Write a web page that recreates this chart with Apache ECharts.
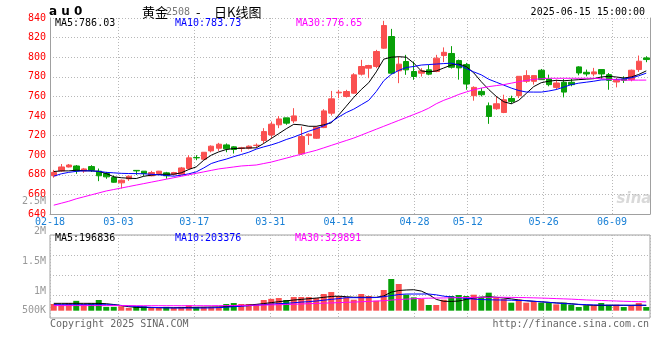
<!DOCTYPE html>
<html><head><meta charset="utf-8">
<script src="https://cdn.jsdelivr.net/npm/echarts@6/dist/echarts.min.js"></script>
<style>html,body{margin:0;padding:0;background:#fff}#c{width:660px;height:360px}</style>
</head><body><div id="c"></div>
<script>
// ---------- data ----------
const dates = ['02-18','02-19','02-20','02-21','02-24','02-25','02-26','02-27','02-28',
'03-03','03-04','03-05','03-06','03-07','03-10','03-11','03-12','03-13','03-14',
'03-17','03-18','03-19','03-20','03-21','03-24','03-25','03-26','03-27','03-28','03-31',
'04-01','04-02','04-03','04-07','04-08','04-09','04-10','04-11',
'04-14','04-15','04-16','04-17','04-18','04-21','04-22','04-23','04-24','04-25',
'04-28','04-29','04-30',
'05-06','05-07','05-08','05-09','05-12','05-13','05-14','05-15','05-16',
'05-19','05-20','05-21','05-22','05-23','05-26','05-27','05-28','05-29','05-30',
'06-03','06-04','06-05','06-06','06-09','06-10','06-11','06-12','06-13','06-16'];
const gridDates = dates.slice(0, 79);
const labelDates = ['02-18','03-03','03-17','03-31','04-14','04-28','05-12','05-26','06-09'];

const opens = [679,684,688,689,684,688.4,683.7,681.3,677.2,671.8,
675.9,684.5,683.7,679,681.3,682,680.6,680.6,686.4,697.6,
695.9,704.4,707.1,710.5,708.5,707,707.1,709.9,715,720.7,
731,738.1,735,701.4,720,717.3,728.2,742.9,763.6,759.9,
763.3,782.7,788.8,790.5,809.2,821.1,786.1,795.6,785.4,783.7,
787.1,785.4,801.7,803.8,796.6,792.5,760.7,765.1,750.4,747.4,
743.6,757.9,760.7,775.4,775.4,786.7,777.8,769.2,774.4,774.4,
790.1,784.6,782.9,787.4,782.2,774.7,777.8,777.1,787.4,799.3];
const highs = [685,691,691,690,687,689.8,686.4,683,679.3,675.2,
679.3,684.7,683.7,684,684,683,683,688,700,700,
703,710,712.6,712,709.2,708.5,710,712,727.6,734.4,
740,738.1,748,729.3,722.4,729.3,747,765.6,766.7,766.7,
783.7,797.3,792.2,807.5,837.1,828.9,800.7,802.4,795.6,788.8,
792.2,802.4,810,811.3,797.6,794.2,770.3,768.5,753.8,760,
761.7,760.7,780.5,786.7,781.2,788,782.2,777.1,777.8,777.8,
790.8,787.4,789.1,787.4,783.9,778.8,780.5,787.4,801.7,801];
const lows = [677,683,687.5,681,682,683,673.5,675.9,672,666,
673.8,679.9,678.6,678.5,679.6,676,679.6,680,685.4,694.9,
695,702.9,704.4,703,701.7,703.4,706,707.5,712.2,717.3,
727.6,731,732.7,700.3,710.5,716.6,727.6,740.5,758.2,758.8,
762.6,781.3,778.6,788.8,808.5,782.7,773.5,782,776.9,780.3,
781.6,784.7,795,788.4,777.1,766.8,755.6,760,732,746.3,
742.9,752.5,758.3,773.7,772,777.1,770.3,766.8,759,770.3,
781.5,780.5,780.5,777.8,766.8,769.2,773.7,775.4,785,794.9];
const closes = [682.5,688,690,684,686,684.7,679,677.9,672.4,674.5,
678.6,684,681.3,682.3,683.7,679,682.3,687,697.3,697.3,
703,709.2,711.2,706.5,705.8,707.5,709.2,710.2,724.1,731.6,
737,732.7,740.1,719,721.4,728.6,745.2,757.5,764.3,765,
782,790.5,791.5,805.8,832.3,783.7,792.9,787.1,780.3,786.1,
782.7,799,805,789.7,789.1,772.6,769.2,761.7,739.5,752.5,
756.6,754.9,780.5,781.2,781.2,777.1,772,773.7,764.4,772,
783.9,782.9,785,782.9,776.4,776.4,776.4,786.7,795.9,797.6];

const ma5 = [683.3,684,684,684.7,684.2,684,683.5,681.3,678,677,
676.5,676.2,678.5,679.6,680.3,680.6,680.6,682,685.4,688.1,
694.9,700,703.4,705.8,706.8,707.1,707.4,707.5,712,717,
722,727,731.5,731,729.5,729.5,731,733,741,750,
759,767,774,785,798,800,800.5,800,794,786,
785,786,789,792,793,790.5,784,775,767,760,
754.5,752.5,756,763,770,774,775.5,776.4,776,776.5,
777.1,777.6,778.1,779.8,780.5,779.8,778.8,779.8,782.4,786.03];
const ma10 = [678.6,681,682.5,683.5,684,684,683.5,682.5,682,681.5,
681.3,681.2,681,680.5,680,679.3,678.6,679.6,681,683,
687,691.5,694,696,698.5,700.7,703,706.2,708.5,710.5,
713,716,718.5,721.5,724.5,727,730,734,739,743.5,
747,751.5,756,765,776,782.5,786.5,789.5,790.5,792,
792.5,793,793.5,793.9,792,788.5,785,782,777.5,774.5,
771.5,768.5,766,764.5,764.4,764.4,765.5,767,769.5,772,
773.5,774.5,775.5,776.8,777.1,777.4,777.8,779,781,783.73];
const ma30 = [649,651,653,655.5,657.5,659.5,661.5,663.5,665,666.5,
668,669.5,671,672.5,674,675.5,677,678.5,680,681.5,
683,684.5,686,687,688,689,689.5,690,691.5,693,
695,697,699,701,703,705,707.5,710,712.5,715,
717.5,720.5,723.5,726.5,729.5,732.5,735.5,738.5,741.5,744.5,
748,752.5,756,758.8,762,764.5,766.8,768.5,770,771,
772,773.5,775,776.3,777.3,778,778.5,778.5,778.5,778.5,
778.5,778.5,778.5,778,777.5,777,776.6,776.6,776.6,776.65];

// volume (thousands of lots)
const volK = [248,236,279,366,248,273,397,142,142,167,
105,167,167,105,105,142,105,142,205,142,
142,142,142,248,285,248,248,248,397,440,
471,397,508,508,508,471,620,694,546,496,
409,620,546,372,769,1178,992,595,496,434,
211,211,409,546,583,546,595,521,670,471,
434,298,409,298,347,298,298,236,298,223,
136,198,198,285,223,223,136,198,285,136];
const vma5K = [273,273,273,273,273,273,270,260,230,190,
149,125,120,115,112,112,112,115,120,125,
130,135,140,150,170,190,210,235,265,300,
335,365,397,420,446,470,496,530,540,520,
500,500,500,496,550,690,750,770,780,730,
600,420,350,345,360,420,470,500,520,500,
470,440,400,370,350,330,310,290,280,260,
230,210,200,195,195,200,200,200,205,196.836];
const vma10K = [223,223,223,223,223,223,223,223,215,195,
174,160,140,124,115,105,100,100,100,100,
100,105,115,130,149,165,185,205,225,245,
262,273,295,320,335,360,390,422,450,484,
484,484,484,490,520,560,600,620,620,620,
620,590,540,510,480,460,430,415,405,400,
397,390,380,372,350,330,310,285,265,250,
236,225,215,210,205,205,203,200,200,203.376];
const vma30K = [190,190,190,190,190,190,190,190,190,190,
188,186,186,186,186,186,186,186,186,186,
186,186,188,190,193,196,200,205,210,214,
222,230,240,250,260,270,280,290,300,311,
320,332,345,357,372,395,415,430,445,458,
465,470,475,480,485,490,495,498,500,500,
498,495,490,485,478,470,460,450,440,430,
415,400,390,380,370,360,350,342,335,329.891];

const volTickLabels = ['2.5M','2M','1.5M','1M','500K'];
const mainLegend = ['MA5:786.03','MA10:783.73','MA30:776.65'];
const volLegend = ['MA5:196836','MA10:203376','MA30:329891'];

// ---------- styles ----------
const UP = '#fa5050', DOWN = '#08a008';
const MA_COLORS = ['#000000','#0000ff','#ff00ff'];
const MONO = '"DejaVu Sans Mono"';
const GRIDC = '#b8b8b8', FRAME = '#a0a0a0';
const dotted = {color: GRIDC, width: 1, type: [1, 2]};
const isLabel = (i, v) => labelDates.indexOf(v) >= 0;

const chart = echarts.init(document.getElementById('c'), null, {renderer: 'canvas'});

function txt(x, y, text, fill, font, align, va) {
  return {type: 'text', x: x, y: y, silent: true, z: 100,
    style: {text: text, fill: fill, font: font, textAlign: align || 'left', align: align || 'left',
      textVerticalAlign: va || 'middle', verticalAlign: va || 'middle'}};
}
const F10 = '10px ' + MONO;
const graphics = [
  txt(49, 12, 'a u 0', '#000', 'bold 12px "DejaVu Sans"'),
  txt(142, 12, '黄金', '#000', '13px "Noto Sans CJK SC"'),
  txt(166, 12, '2508', '#777', F10),
  txt(196, 12, '-', '#000', '13px "Noto Sans CJK SC"'),
  txt(214, 12, '日K线图', '#000', '13px "Noto Sans CJK SC"'),
  txt(645, 12, '2025-06-15 15:00:00', '#000', F10, 'right'),
  txt(55, 23, mainLegend[0], MA_COLORS[0], F10),
  txt(175, 23, mainLegend[1], MA_COLORS[1], F10),
  txt(296, 23, mainLegend[2], MA_COLORS[2], F10),
  txt(55, 238.5, volLegend[0], MA_COLORS[0], F10),
  txt(175, 238.5, volLegend[1], MA_COLORS[1], F10),
  txt(295, 238.5, volLegend[2], MA_COLORS[2], F10),
  txt(50, 324, 'Copyright 2025 SINA.COM', '#666', F10),
  txt(649, 324, 'http://finance.sina.com.cn', '#666', F10, 'right'),
  txt(634, 199, 'sina', 'rgba(185,185,185,0.55)', 'italic bold 15px "DejaVu Sans"', 'center')
];
const volLabelY = [201, 231, 261, 291, 310];
volTickLabels.forEach((t, i) => graphics.push(txt(46, volLabelY[i], t, '#999', F10, 'right')));

const candleData = dates.map((d, i) => [opens[i], closes[i], lows[i], highs[i]]);
const volData = volK.map((v, i) => ({value: v * 1000,
  itemStyle: {color: closes[i] >= opens[i] ? UP : DOWN}}));
const k = a => a.map(v => v * 1000);

function lineSeries(data, color, xi, yi) {
  return {type: 'line', data: data, xAxisIndex: xi, yAxisIndex: yi, symbol: 'none', showSymbol: false,
    silent: true, z: 5, lineStyle: {width: 1, color: color}, itemStyle: {color: color}};
}

const option = {
  animation: false,
  backgroundColor: '#ffffff',
  grid: [
    {left: 50, width: 600, top: 18, height: 196, show: false},
    {left: 50, width: 600, top: 235, height: 83, show: true, borderColor: FRAME, borderWidth: 1, backgroundColor: 'transparent'},
    {left: 50, width: 600, top: 235, height: 60, show: false}
  ],
  xAxis: [
    {type: 'category', gridIndex: 0, data: dates, boundaryGap: true, position: 'bottom',
      axisLine: {show: true, lineStyle: {color: FRAME, width: 1}}, axisTick: {show: false},
      axisLabel: {show: false}, splitLine: {show: false}},
    {type: 'category', gridIndex: 0, data: gridDates, boundaryGap: true, position: 'bottom',
      axisLine: {show: false}, axisTick: {show: false},
      axisLabel: {show: true, interval: isLabel, color: '#1a80d6', fontSize: 10, fontFamily: MONO,
        margin: 3, padding: [0, 7.6, 0, 0]},
      splitLine: {show: true, interval: isLabel, lineStyle: dotted}},
    {type: 'category', gridIndex: 1, data: dates, boundaryGap: true, position: 'bottom',
      axisLine: {show: false}, axisTick: {show: false}, axisLabel: {show: false}, splitLine: {show: false}},
    {type: 'category', gridIndex: 1, data: gridDates, boundaryGap: true, position: 'bottom',
      axisLine: {show: false}, axisTick: {show: false}, axisLabel: {show: false},
      splitLine: {show: true, interval: isLabel, lineStyle: dotted}},
    {type: 'value', gridIndex: 2, min: 0, max: 1, show: false}
  ],
  yAxis: [
    {type: 'value', gridIndex: 0, min: 640, max: 840, interval: 20, position: 'left',
      axisLine: {show: true, lineStyle: {color: FRAME, width: 1}}, axisTick: {show: false},
      axisLabel: {color: '#ff0000', fontSize: 10, fontFamily: MONO, margin: 4, padding: [0, 0, 4, 0]},
      splitLine: {show: true, lineStyle: dotted}},
    {type: 'value', gridIndex: 0, min: 0, max: 1, position: 'right',
      axisLine: {show: true, lineStyle: {color: FRAME, width: 1}}, axisTick: {show: false},
      axisLabel: {show: false}, splitLine: {show: false}},
    {type: 'value', gridIndex: 1, min: -272000, max: 2816000, position: 'left',
      axisLine: {show: false}, axisTick: {show: false}, axisLabel: {show: false}, splitLine: {show: false}},
    {type: 'value', gridIndex: 2, min: 0, max: 3, interval: 1, position: 'left',
      axisLine: {show: false}, axisTick: {show: false}, axisLabel: {show: false},
      splitLine: {show: true, lineStyle: dotted}}
  ],
  series: [
    {type: 'candlestick', xAxisIndex: 0, yAxisIndex: 0, data: candleData, barWidth: 6, silent: true, z: 3,
      itemStyle: {color: UP, color0: DOWN, borderColor: UP, borderColor0: DOWN, borderWidth: 1}},
    lineSeries(ma5, MA_COLORS[0], 0, 0),
    lineSeries(ma10, MA_COLORS[1], 0, 0),
    lineSeries(ma30, MA_COLORS[2], 0, 0),
    {type: 'bar', xAxisIndex: 2, yAxisIndex: 2, data: volData, barWidth: 6, silent: true, z: 3},
    lineSeries(k(vma5K), MA_COLORS[0], 2, 2),
    lineSeries(k(vma10K), MA_COLORS[1], 2, 2),
    lineSeries(k(vma30K), MA_COLORS[2], 2, 2)
  ],
  graphic: graphics
};
chart.setOption(option);
</script>
</body></html>
